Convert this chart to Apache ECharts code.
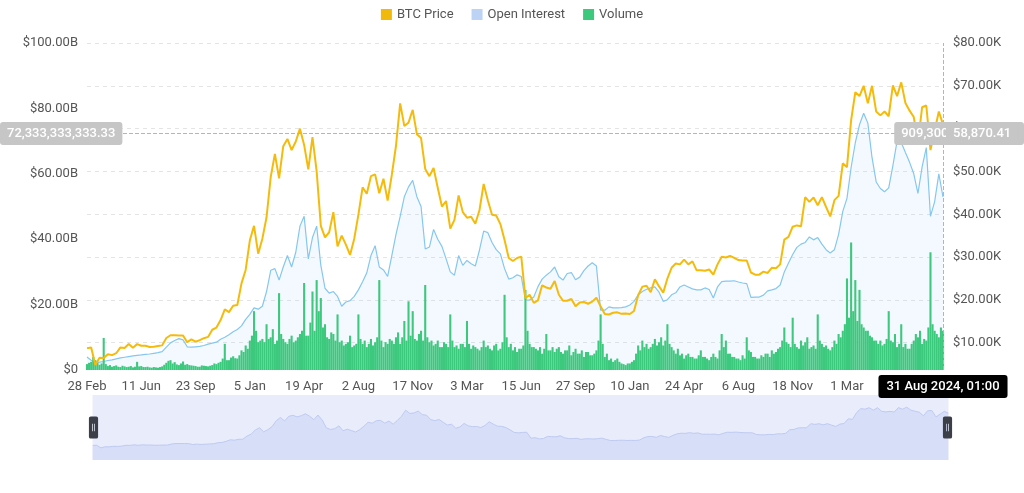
<!DOCTYPE html>
<html>
<head>
<meta charset="utf-8">
<script src="https://cdn.jsdelivr.net/npm/echarts@6/dist/echarts.min.js"></script>
<style>
html,body{margin:0;padding:0;background:#fff;}
#c{width:1024px;height:493px;}
</style>
</head>
<body>
<div id="c"></div>
<script>
// ---- data ----
const startDate = '2020-02-28';
const stepDays = 8;        // price / open interest sampling
const volStepDays = 4;     // volume sampling
const lastDate = '2024-08-31';
const lastTime = '01:00';

const tickLabels = ['28 Feb','11 Jun','23 Sep','5 Jan','19 Apr','2 Aug','17 Nov','3 Mar','15 Jun','27 Sep','10 Jan','24 Apr','6 Aug','18 Nov','1 Mar',''];

// BTC price (USD), right axis
const btcPrice = [
 8700, 8900, 4800, 6500, 6420, 7300, 7100, 7550, 8900, 8750,
 9700, 8850, 9670, 9300, 9300, 9000, 9070, 9230, 9380, 11100,
 11750, 11770, 11660, 11700, 10130, 10790, 10240, 10620, 11060, 11360,
 13030, 13550, 15300, 17800, 17150, 18650, 18800, 23850, 27000, 33900,
 37300, 30800, 34300, 39300, 48700, 54100, 48400, 55900, 57600, 55000,
 57000, 60000, 56200, 50500, 58000, 50000, 37300, 34600, 35800, 40500,
 32500, 35000, 32900, 30500, 34300, 39900, 46300, 44800, 48900, 49300,
 44900, 48300, 43200, 49200, 56000, 65900, 60600, 61400, 64400, 58700,
 57800, 50600, 48900, 50800, 46200, 41800, 43100, 36650, 38700, 44400,
 40500, 39200, 39400, 37800, 41000, 47100, 43200, 39900, 39700, 37700,
 34000, 29800, 29100, 29800, 30100, 20400, 21200, 19300, 19900, 23400,
 22900, 22600, 24400, 21200, 19800, 19800, 20200, 18500, 19400, 19500,
 19100, 19600, 20500, 18500, 16700, 16600, 17000, 17100, 16750, 16850,
 16700, 17400, 21100, 23100, 23300, 21800, 24800, 23150, 21700, 25000,
 27500, 28500, 28300, 29400, 28300, 29000, 26900, 26900, 26800, 27100,
 25900, 28300, 30100, 29900, 30300, 29800, 29300, 29200, 29200, 26400,
 25900, 25900, 26600, 26300, 27500, 27400, 28300, 34100, 34700, 37100,
 37400, 37200, 44000, 42900, 43900, 42100, 44000, 41700, 39500, 43300,
 44300, 51900, 51000, 62000, 68500, 67600, 70000, 65900, 70000, 64000,
 63100, 64000, 62900, 70100, 67600, 70800, 66000, 64200, 62700, 56700,
 65000, 65400, 55000, 59500, 64000, 61000
];

// Open interest ($B), left axis
const openInterest = [
 4.0, 3.0, 2.1, 2.4, 2.6, 2.9, 3.1, 3.4, 3.7, 3.9,
 4.1, 4.3, 4.5, 4.6, 4.8, 4.9, 5.1, 5.3, 5.6, 7.0,
 8.3, 9.0, 9.6, 9.2, 7.1, 7.0, 7.1, 7.2, 7.5, 7.9,
 8.2, 8.5, 9.4, 10.0, 10.8, 11.7, 12.4, 13.5, 15.5, 17.0,
 19.0, 18.6, 19.5, 24.0, 30.5, 31.0, 27.5, 31.5, 35.0, 31.5,
 36.0, 44.0, 47.0, 34.0, 40.5, 44.0, 32.0, 25.0, 23.5, 24.0,
 22.5, 19.5, 20.8, 21.2, 22.5, 24.5, 27.0, 29.7, 35.0, 38.0,
 31.5, 30.6, 28.6, 35.0, 41.5, 47.0, 53.0, 56.0, 58.0, 53.0,
 50.0, 37.0, 37.6, 43.0, 40.0, 37.8, 34.0, 30.0, 29.0, 35.0,
 32.0, 33.5, 32.5, 31.8, 36.7, 42.5, 42.0, 39.0, 36.8, 35.5,
 31.0, 27.8, 28.2, 29.1, 28.6, 21.4, 21.4, 22.3, 25.5, 27.8,
 29.0, 30.0, 31.5, 28.5, 27.5, 29.5, 29.8, 27.6, 28.4, 30.4,
 31.8, 32.8, 31.8, 18.3, 18.3, 19.3, 19.0, 19.0, 19.1, 19.3,
 19.9, 21.0, 23.0, 24.0, 24.7, 25.1, 25.4, 23.8, 21.0, 21.5,
 23.0, 23.6, 25.4, 26.0, 25.4, 24.8, 24.5, 24.5, 25.1, 24.6,
 22.0, 25.4, 27.0, 27.2, 27.2, 27.3, 26.9, 26.6, 26.4, 22.2,
 22.3, 22.3, 22.9, 24.2, 24.5, 24.9, 26.0, 30.0, 32.7, 35.3,
 37.5, 38.5, 39.0, 40.7, 39.8, 40.5, 38.5, 36.8, 35.8, 36.8,
 41.5, 48.5, 52.5, 62.0, 69.5, 75.0, 78.5, 75.5, 65.0, 57.5,
 55.5, 54.5, 55.7, 62.5, 70.0, 69.6, 66.5, 63.5, 60.0, 54.0,
 62.1, 68.0, 47.0, 51.5, 60.0, 52.9
];

// Volume ($B), left axis, 4-day sampling
const volume = [
 1.8, 2.2, 2.5, 4.0, 3.0, 2.2, 1.6, 2.0, 9.8, 1.8, 1.2, 1.5, 1.0, 1.2, 1.4, 1.0, 0.9, 1.3, 1.1, 0.9,
 1.0, 1.2, 0.8, 1.0, 2.5, 1.1, 1.2, 0.9, 0.9, 1.0, 0.8, 0.7, 0.9, 0.8, 0.7, 0.9, 1.1, 1.6, 2.2, 2.8,
 3.0, 2.0, 2.4, 1.7, 1.5, 2.0, 2.6, 1.6, 1.8, 1.5, 1.4, 1.3, 1.2, 1.0, 1.0, 1.4, 1.3, 1.2, 1.1, 1.3,
 1.5, 2.0, 1.8, 2.2, 2.5, 3.5, 8.0, 3.0, 3.0, 3.8, 4.2, 3.6, 3.5, 4.5, 6.0, 5.5, 7.5, 6.5, 9.0, 10.5,
 18.0, 12.0, 8.5, 9.0, 9.5, 8.5, 14.0, 9.5, 10.0, 12.5, 8.0, 9.0, 23.5, 11.0, 9.5, 8.5, 8.0, 9.5, 10.5, 8.5,
 9.0, 10.0, 11.0, 12.0, 26.6, 10.5, 10.5, 14.5, 24.0, 12.0, 27.5, 18.0, 22.0, 13.0, 14.0, 10.0, 9.5, 11.5, 11.0, 9.0,
 17.0, 8.5, 9.0, 7.5, 8.0, 8.5, 10.5, 7.0, 7.5, 8.0, 17.0, 9.5, 8.0, 9.0, 7.0, 8.0, 9.5, 7.5, 8.5, 10.0,
 27.5, 9.0, 7.0, 8.5, 8.0, 9.5, 9.0, 8.0, 10.0, 11.5, 8.0, 10.0, 15.0, 9.0, 21.0, 10.5, 18.0, 9.5, 9.0, 11.0,
 12.0, 9.0, 26.0, 10.0, 8.5, 9.0, 7.5, 8.0, 9.0, 7.0, 7.0, 8.5, 8.0, 7.0, 17.0, 9.0, 7.0, 7.5, 6.5, 8.0,
 8.0, 7.0, 15.0, 8.0, 6.5, 7.5, 7.0, 6.5, 6.0, 7.0, 9.0, 7.0, 7.5, 6.5, 6.0, 7.5, 8.0, 6.0, 6.5, 8.5,
 23.0, 10.0, 7.0, 8.0, 6.0, 7.0, 5.5, 6.5, 6.5, 7.5, 24.5, 12.0, 8.0, 7.0, 7.0, 6.5, 6.0, 7.0, 5.0, 6.5,
 11.0, 6.0, 6.0, 7.0, 5.5, 6.5, 7.0, 5.5, 5.0, 6.0, 6.0, 7.5, 4.5, 5.5, 6.5, 5.0, 5.0, 6.0, 4.0, 5.5,
 5.5, 4.5, 4.5, 5.0, 6.0, 9.0, 17.0, 8.0, 4.0, 5.0, 3.0, 3.5, 2.5, 3.0, 3.5, 2.5, 2.0, 1.8, 1.5, 2.0,
 2.0, 2.5, 3.0, 5.0, 7.5, 6.0, 9.0, 7.0, 8.0, 6.5, 7.0, 8.0, 9.5, 7.5, 8.5, 10.0, 7.5, 9.0, 14.0, 8.0,
 7.0, 6.0, 5.0, 6.5, 4.5, 5.0, 3.5, 4.5, 5.0, 4.0, 4.0, 3.5, 3.5, 4.5, 6.0, 4.0, 4.0, 3.5, 3.0, 4.0,
 5.0, 4.0, 3.5, 6.0, 11.0, 7.0, 9.0, 5.0, 5.0, 4.0, 4.0, 3.5, 3.5, 3.0, 4.5, 3.5, 10.0, 6.0, 5.5, 4.0,
 4.0, 3.5, 3.5, 4.5, 4.0, 5.0, 5.0, 4.0, 6.0, 5.0, 5.5, 6.5, 7.0, 9.0, 13.0, 8.5, 8.0, 7.0, 16.0, 8.0,
 7.0, 6.5, 9.0, 7.5, 8.5, 10.0, 6.5, 7.0, 7.5, 6.5, 17.0, 9.0, 8.0, 7.0, 7.5, 6.5, 6.0, 7.0, 9.0, 8.0,
 11.0, 10.0, 12.0, 14.0, 28.0, 16.0, 39.0, 18.0, 27.5, 15.0, 24.5, 14.0, 13.0, 12.0, 12.0, 10.5, 10.0, 9.0, 9.0, 8.0,
 9.0, 7.5, 8.0, 9.5, 18.0, 9.0, 8.5, 11.0, 7.0, 8.0, 14.0, 7.0, 8.0, 6.5, 6.5, 8.0, 9.0, 11.0, 10.0, 12.0,
 8.0, 9.5, 9.0, 13.0, 36.0, 14.0, 12.0, 11.0, 10.0, 13.0, 12.0
];

const rightTicks = [10000, 20000, 30000, 40000, 50000, 60000, 70000, 80000];
const rightMin = 3629, rightMax = 80000;
const leftMin = 0, leftMax = 100, leftStep = 20;

// crosshair readouts
const pointerLeft = 72.33333333333;     // $B
const pointerVol = 909.3;               // $B (hidden axis)
const pointerRight = 58870.41;          // USD

// ---- helpers ----
const MONTHS = ['Jan','Feb','Mar','Apr','May','Jun','Jul','Aug','Sep','Oct','Nov','Dec'];
function addDays(iso, n) {
  const d = new Date(iso + 'T00:00:00Z');
  d.setUTCDate(d.getUTCDate() + n);
  return d.toISOString().slice(0, 10);
}
const categories = btcPrice.map((_, i) => i === btcPrice.length - 1 ? lastDate : addDays(startDate, i * stepDays));
const volCategories = volume.map((_, j) => j === volume.length - 1 ? lastDate : addDays(startDate, j * volStepDays));
function fmt2(v) {
  const neg = v < 0; v = Math.abs(v);
  const fixed = (Math.round(v * 100) / 100).toFixed(2);
  let [ip, dp] = fixed.split('.');
  ip = ip.replace(/\B(?=(\d{3})+(?!\d))/g, ',');
  return (neg ? '-' : '') + ip + '.' + dp;
}
const volMax = pointerVol / ((pointerLeft - leftMin) / (leftMax - leftMin));

const ptrLabel = {
  backgroundColor: '#c6c6c6', color: '#fff', fontSize: 13, fontWeight: 500,
  padding: [5, 7, 5, 7], borderRadius: 3, fontFamily: 'Roboto'
};
const ptrLine = { type: 'dashed', color: '#b5b5b5', width: 1 };

const chart = echarts.init(document.getElementById('c'), null, { renderer: 'canvas' });
chart.setOption({
  animation: false,
  textStyle: { fontFamily: 'Roboto' },
  legend: {
    top: 3, left: 'center', icon: 'rect', itemWidth: 11, itemHeight: 11, itemGap: 18,
    textStyle: { color: '#555', fontSize: 13 },
    data: ['BTC Price', 'Open Interest', 'Volume']
  },
  grid: { left: 87, right: 81, top: 43, bottom: 123, containLabel: false },
  xAxis: [{
    type: 'category', data: categories, boundaryGap: false,
    axisLine: { show: false }, axisTick: { show: false },
    axisLabel: {
      interval: 12, color: '#555', fontSize: 13, margin: 10,
      formatter: (v, i) => { const k = i / 13; return Number.isInteger(k) && tickLabels[k] !== undefined ? tickLabels[k] : ''; }
    },
    splitLine: { show: false },
    axisPointer: {
      show: true, status: 'show', value: categories.length - 1, triggerTooltip: false, snap: true,
      lineStyle: ptrLine,
      label: {
        backgroundColor: '#000', color: '#fff', fontSize: 13, fontWeight: 500,
        padding: [5, 8, 5, 8], borderRadius: 3, margin: 5,
        formatter: p => {
          let v = p.value;
          if (typeof v === 'number') v = categories[v];
          const [y, m, d] = String(v).split('-');
          return `${+d} ${MONTHS[+m - 1]} ${y}, ${lastTime}`;
        }
      }
    }
  }, {
    type: 'category', data: volCategories, boundaryGap: false, show: false,
    axisPointer: { show: false }
  }],
  yAxis: [
    {
      type: 'value', position: 'left', min: leftMin, max: leftMax, interval: leftStep,
      axisLine: { show: false }, axisTick: { show: false }, splitLine: { show: false },
      axisLabel: { color: '#555', fontSize: 13, margin: 9, formatter: v => v === 0 ? '$0' : '$' + v.toFixed(2) + 'B' },
      axisPointer: {
        show: true, status: 'show', value: pointerLeft, triggerTooltip: false, lineStyle: ptrLine,
        label: Object.assign({}, ptrLabel, { formatter: p => fmt2(p.value * 1e9) })
      }
    },
    {
      type: 'value', position: 'right', min: 0, max: volMax,
      axisLine: { show: false }, axisTick: { show: false }, splitLine: { show: false }, axisLabel: { show: false },
      axisPointer: {
        show: true, status: 'show', value: pointerVol, triggerTooltip: false, lineStyle: ptrLine,
        label: Object.assign({}, ptrLabel, { formatter: p => fmt2(p.value * 1e9) })
      }
    },
    {
      type: 'value', position: 'right', min: rightMin, max: rightMax, splitNumber: 8,
      axisLine: { show: false },
      axisTick: { show: false, customValues: rightTicks },
      axisLabel: { color: '#555', fontSize: 13, margin: 10, customValues: rightTicks, formatter: v => '$' + (v / 1000).toFixed(2) + 'K' },
      splitLine: { show: true, lineStyle: { type: [4, 4], color: '#e4e4e4' } },
      axisPointer: {
        show: true, status: 'show', value: pointerRight, triggerTooltip: false, lineStyle: ptrLine,
        label: Object.assign({}, ptrLabel, { formatter: p => fmt2(p.value) })
      }
    }
  ],
  dataZoom: [{
    type: 'slider', xAxisIndex: 0, start: 0, end: 100,
    left: 90, right: 78, top: 395, height: 65,
    showDetail: false, brushSelect: false, moveHandleSize: 0,
    backgroundColor: '#e9ecfb', borderColor: 'transparent', fillerColor: 'rgba(0,0,0,0)',
    dataBackground: { lineStyle: { color: '#bfcaf0', width: 1, opacity: 1 }, areaStyle: { color: '#d6def8', opacity: 1 } },
    selectedDataBackground: { lineStyle: { color: '#bfcaf0', width: 1, opacity: 1 }, areaStyle: { color: '#d6def8', opacity: 1 } },
    handleIcon: 'path://M2,0H8A2,2,0,0,1,10,2V22A2,2,0,0,1,8,24H2A2,2,0,0,1,0,22V2A2,2,0,0,1,2,0ZM3.6,8V16H4.4V8ZM5.6,8V16H6.4V8Z',
    handleSize: 22,
    handleStyle: { color: '#3c3f48', borderColor: '#3c3f48', borderWidth: 0 },
    emphasis: { handleStyle: { color: '#3c3f48', borderColor: '#3c3f48' } }
  }],
  series: [
    {
      name: 'BTC Price', type: 'line', yAxisIndex: 2, data: btcPrice,
      showSymbol: false, symbol: 'none', z: 5,
      itemStyle: { color: '#f0b90b' },
      lineStyle: { color: '#f5bb0c', width: 2 }
    },
    {
      name: 'Open Interest', type: 'line', yAxisIndex: 0, data: openInterest,
      showSymbol: false, symbol: 'none', z: 2,
      itemStyle: { color: '#bcd3f6' },
      lineStyle: { color: '#86c7f0', width: 1.2 },
      areaStyle: { color: 'rgba(170,210,245,0.2)' }
    },
    {
      name: 'Volume', type: 'bar', xAxisIndex: 1, yAxisIndex: 0, data: volume, z: 3,
      barCategoryGap: '0%',
      itemStyle: { color: '#3cc87d' }
    }
  ]
});
</script>
</body>
</html>
